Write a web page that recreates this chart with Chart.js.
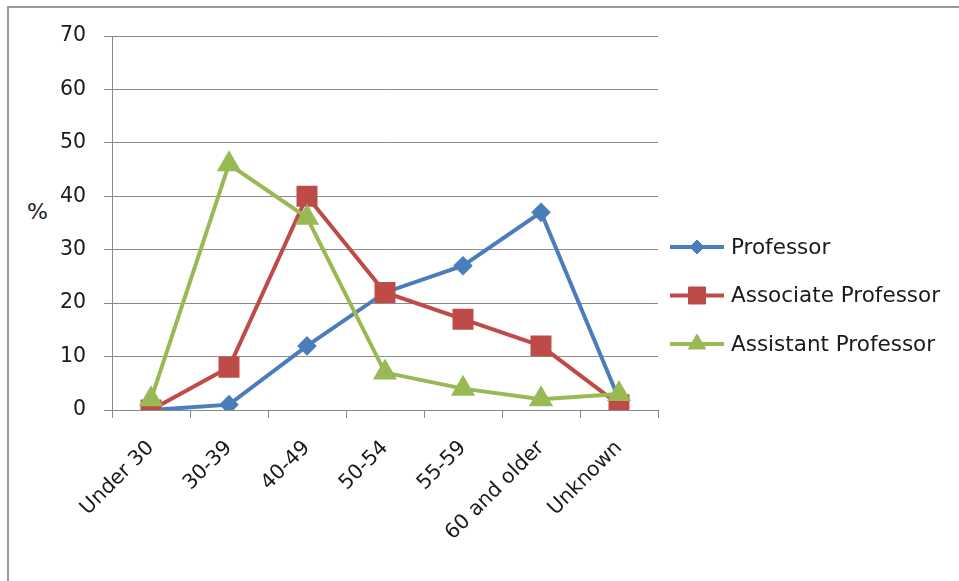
<!DOCTYPE html>
<html>
<head>
<meta charset="utf-8">
<script src="https://cdn.jsdelivr.net/npm/chart.js@4"></script>
<style>
  html, body { margin: 0; padding: 0; background: #fff; }
  #wrap { position: relative; width: 959px; height: 581px; overflow: hidden; }
  #frame { position: absolute; left: 7px; top: 6px; right: -10px; bottom: -10px;
           border-left: 2px solid #9a9a9a; border-top: 2px solid #9a9a9a; }
  #ylab { position: absolute; left: 27px; top: 199px; font: 22px "DejaVu Sans"; color: #1a1a2a; }
  canvas { position: absolute; left: 0; top: 0; }
</style>
</head>
<body>
<div id="wrap">
  <div id="frame"></div>
  <div id="ylab">%</div>
  <canvas id="ageChart" width="959" height="581"></canvas>
</div>
<script>
// Age groups and share of each rank (%)
const ageGroups = ['Under 30', '30-39', '40-49', '50-54', '55-59', '60 and older', 'Unknown'];
const professor = [0, 1, 12, 22, 27, 37, 2];
const associateProfessor = [0, 8, 40, 22, 17, 12, 1];
const assistantProfessor = [2, 46, 36, 7, 4, 2, 3];
const yTicks = [0, 10, 20, 30, 40, 50, 60, 70];

const gridGrey = '#8a8a8a';
const textColor = '#1a1a1a';
const font = { family: 'DejaVu Sans', size: 20.5 };

// Legend drawn at the right, with the line + marker like Excel
const sideLegend = {
    id: 'sideLegend',
    afterDraw(chart) {
        const ctx = chart.ctx;
        chart.data.datasets.forEach((ds, i) => {
            const y = 247 + i * 48.5;
            ctx.save();
            ctx.strokeStyle = ds.borderColor;
            ctx.lineWidth = 4;
            ctx.beginPath();
            ctx.moveTo(670, y);
            ctx.lineTo(724, y);
            ctx.stroke();
            ctx.fillStyle = ds.pointBackgroundColor;
            ctx.strokeStyle = ds.pointBorderColor;
            ctx.lineWidth = 1;
            Chart.helpers.drawPoint(ctx, { pointStyle: ds.pointStyle, radius: ds.pointRadius, borderWidth: 1 }, 697, y);
            ctx.fillStyle = textColor;
            ctx.font = '21.5px "DejaVu Sans"';
            ctx.textBaseline = 'middle';
            ctx.textAlign = 'left';
            ctx.fillText(ds.label, 731, y + 1);
            ctx.restore();
        });
    }
};

new Chart(document.getElementById('ageChart'), {
    type: 'line',
    data: {
        labels: ageGroups,
        datasets: [{
            label: 'Professor',
            data: professor,
            borderColor: '#4a7ebb',
            pointBackgroundColor: '#4a7ebb',
            pointBorderColor: '#4a7ebb',
            pointStyle: 'rectRot',
            pointRadius: 7,
            borderWidth: 4,
            order: 3
        }, {
            label: 'Associate Professor',
            data: associateProfessor,
            borderColor: '#be4b48',
            pointBackgroundColor: '#be4b48',
            pointBorderColor: '#be4b48',
            pointStyle: 'rect',
            pointRadius: 12,
            borderWidth: 4,
            order: 2
        }, {
            label: 'Assistant Professor',
            data: assistantProfessor,
            borderColor: '#98b954',
            pointBackgroundColor: '#98b954',
            pointBorderColor: '#98b954',
            pointStyle: 'triangle',
            pointRadius: 10,
            borderWidth: 4,
            order: 1
        }]
    },
    options: {
        responsive: false,
        animation: false,
        layout: { padding: { left: 0, top: 36, right: 301, bottom: 0 } },
        plugins: { legend: { display: false }, tooltip: { enabled: false } },
        scales: {
            x: {
                offset: true,
                grid: { offset: true, drawOnChartArea: false, drawTicks: true, tickLength: 8, color: gridGrey },
                border: { color: gridGrey, width: 1 },
                ticks: { color: textColor, font: font, minRotation: 45, maxRotation: 45, padding: 18 },
                afterFit(scale) { scale.height = 171; }
            },
            y: {
                min: 0,
                max: 70,
                afterBuildTicks(scale) { scale.ticks = yTicks.map(v => ({ value: v })); },
                grid: { color: gridGrey, tickLength: 8 },
                border: { color: gridGrey, width: 1 },
                ticks: { color: textColor, font: font, padding: 18 },
                afterFit(scale) { scale.width = 112; }
            }
        }
    },
    plugins: [sideLegend]
});
</script>
</body>
</html>
